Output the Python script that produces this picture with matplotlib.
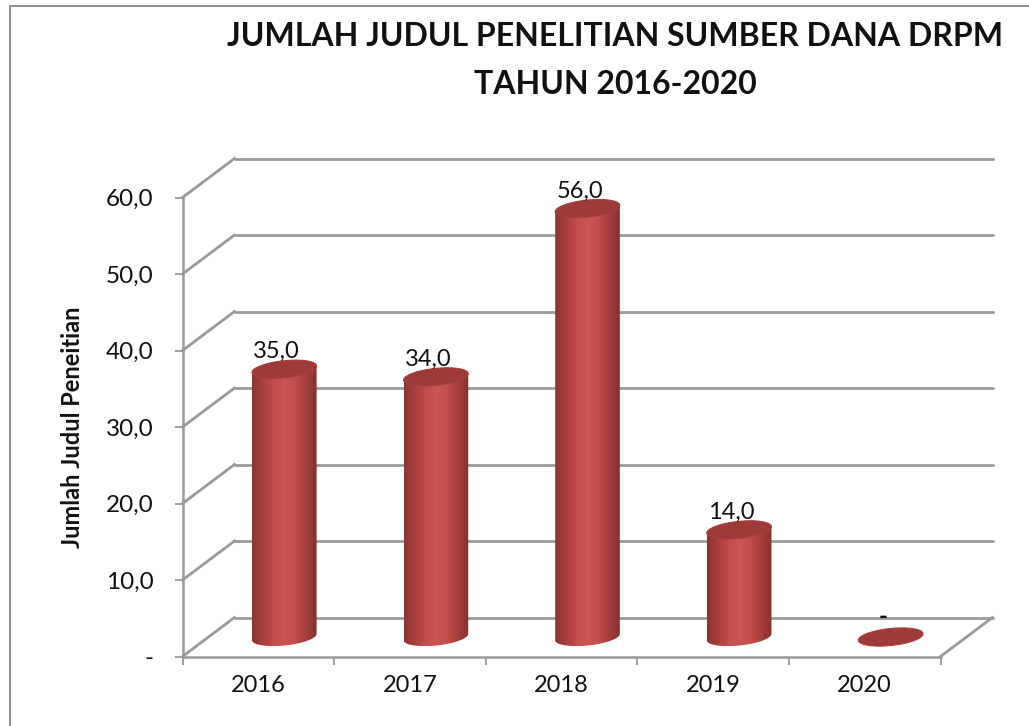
import matplotlib
matplotlib.use("Agg")
import matplotlib.pyplot as plt
import numpy as np
from matplotlib.colors import LinearSegmentedColormap
from matplotlib.patches import PathPatch
from matplotlib.path import Path
from matplotlib.transforms import Affine2D

plt.rcParams['font.family'] = ['Lato', 'DejaVu Sans']

years = ['2016', '2017', '2018', '2019', '2020']
values = [35.0, 34.0, 56.0, 14.0, 0.0]
bar_labels = ['35,0', '34,0', '56,0', '14,0', '-']
y_ticks = [0, 10, 20, 30, 40, 50, 60]
y_labels = ['-', '10,0', '20,0', '30,0', '40,0', '50,0', '60,0']
title_lines = ['JUMLAH JUDUL PENELITIAN SUMBER DANA DRPM', 'TAHUN 2016-2020']
y_title = 'Jumlah Judul Peneitian'

W, H = 1029, 726
grey = '#9a9a9a'
depth = (52, 39)  # pixels from front plane to back wall
x0, x1, y0, y1 = 182.5, 940.5, 656.5, 197.5

fig = plt.figure(figsize=(W / 100, H / 100), dpi=100)
# only the top and left edges of the chart frame are in the picture
fig.add_artist(plt.Line2D([9.5 / W, 9.5 / W, 1], [0, 1 - 5.5 / H, 1 - 5.5 / H],
                          transform=fig.transFigure, color='#8e8e8e', lw=1.4))

ax = fig.add_axes([x0 / W, 1 - y0 / H, (x1 - x0) / W, (y0 - y1) / H])
ax.set_xlim(0, 5)
ax.set_ylim(0, 60)
ax.patch.set_visible(False)
for s in ['top', 'right']:
    ax.spines[s].set_visible(False)
for s in ['left', 'bottom']:
    ax.spines[s].set_color(grey)
    ax.spines[s].set_linewidth(1.8)
ax.set_xticks(range(6))
ax.set_xticklabels([])
ax.set_xticks(np.arange(5) + 0.5, years, minor=True)
ax.set_yticks(y_ticks, y_labels)
ax.tick_params(axis='both', which='major', color=grey, width=1.3, length=6)
ax.tick_params(axis='x', which='minor', length=0, pad=13, labelsize=17, labelcolor='#111111')
ax.tick_params(axis='y', labelsize=17.5, pad=15, labelcolor='#111111')
ax.set_ylabel(y_title, fontsize=17, fontweight='bold', color='#111111', va='center')
ax.yaxis.set_label_coords(73 / W, 1 - 427 / H, transform=fig.transFigure)
fig.text(615 / W, 1 - 37 / H, title_lines[0], ha='center', va='center', fontsize=23,
         fontweight='bold', color='#111111')
fig.text(615 / W, 1 - 85 / H, title_lines[1], ha='center', va='center', fontsize=23,
         fontweight='bold', color='#111111')


def shifted(frac):
    return ax.transData + Affine2D().translate(depth[0] * frac, depth[1] * frac)


# side wall lines and back wall gridlines
back = shifted(1)
for v in y_ticks:
    ax.plot([0, 5], [v, v], transform=back, color=grey, lw=2, clip_on=False, zorder=1,
            solid_capstyle='round')
    p0 = ax.transData.transform((0, v))
    side = np.array([p0, p0 + depth])
    ax.plot(side[:, 0], side[:, 1], transform=None, color=grey, lw=2, clip_on=False, zorder=1)
p1 = ax.transData.transform((5, 0))
floor_edge = np.array([p1, p1 + depth])
ax.plot(floor_edge[:, 0], floor_edge[:, 1], transform=None, color=grey, lw=2, clip_on=False, zorder=1)

# cylinders
body_cmap = LinearSegmentedColormap.from_list('body', ['#8a3432', '#a93f3d', '#c24d4b', '#cb5553',
                                                       '#c24e4c', '#a63f3d', '#823130'])
a, b, tilt = 32.5, 8.5, np.radians(6)
mid = shifted(0.5)


def ellipse(cx, cy, t):
    return np.column_stack([cx + a * np.cos(t) * np.cos(tilt) - b * np.sin(t) * np.sin(tilt),
                            cy + a * np.cos(t) * np.sin(tilt) + b * np.sin(t) * np.cos(tilt)])


for i, v in enumerate(values):
    base = mid.transform((i + 0.5, 0))
    top = mid.transform((i + 0.5, v))
    if v > 0:
        lower = ellipse(base[0], base[1], np.linspace(np.pi, 2 * np.pi, 40))
        upper = ellipse(top[0], top[1], np.linspace(0, np.pi, 40))
        verts = np.vstack([lower, upper, lower[:1]])
        patch = PathPatch(Path(verts), fc='none', ec='none', transform=None, zorder=3)
        ax.add_patch(patch)
        im = ax.imshow(np.linspace(0, 1, 128)[None, :], cmap=body_cmap, aspect='auto', zorder=3,
                       transform=None,
                       extent=[verts[:, 0].min(), verts[:, 0].max(), verts[:, 1].min(), verts[:, 1].max()])
        im.set_clip_path(patch)
    cap = ellipse(top[0], top[1], np.linspace(0, 2 * np.pi, 80))
    ax.add_patch(PathPatch(Path(cap), fc='#9e3a39', ec='#a8403e', lw=0.8, transform=None, zorder=4))
    if v > 0:
        ax.annotate(bar_labels[i], xy=(i + 0.5, v), xycoords=mid, xytext=(-8, 11),
                    textcoords='offset pixels', ha='center', va='baseline', fontsize=17,
                    color='#111111', zorder=5, annotation_clip=False)
    else:
        ax.annotate(bar_labels[i], xy=(i + 0.5, v), xycoords=mid, xytext=(-8, 20),
                    textcoords='offset pixels', ha='center', va='center', fontsize=17,
                    fontweight='bold', color='#111111', zorder=5, annotation_clip=False)

ax.set_xlim(0, 5)
ax.set_ylim(0, 60)
fig.savefig('out.png', dpi=100)
